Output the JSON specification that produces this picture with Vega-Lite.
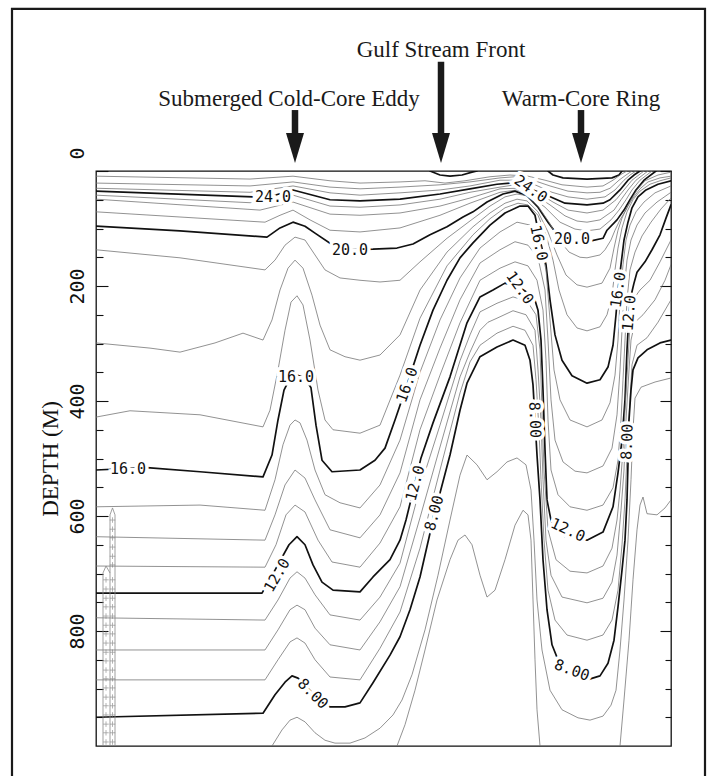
{
"$schema": "https://vega.github.io/schema/vega-lite/v6.json",
"width": 575, "height": 575,
"autosize": {"type": "none"},
"padding": {"left": 96, "top": 171, "right": 41, "bottom": 30},
"background": "white",
"config": {"view": {"stroke": "#111", "strokeWidth": 1.3}, "axis": {"grid": false, "domain": false}},
"resolve": {"axis": {"y": "independent"}},
"datasets": {
"frame": [{"x1": -84, "x2": 609, "d1": -282, "d2": 1080}],
"notes": [{"label": "Gulf Stream Front", "dist": 345, "depth": -198}, {"label": "Submerged Cold-Core Eddy", "dist": 193, "depth": -113}, {"label": "Warm-Core Ring", "dist": 485, "depth": -113}],
"arrows": [{"dist": 199, "top": -106, "base": -52, "tip": -14}, {"dist": 345, "top": -190, "base": -52, "tip": -14}, {"dist": 485, "top": -106, "base": -52, "tip": -14}],
"probe": [{"part":"a","dist":14,"depth":1000},{"part":"a","dist":14,"depth":598},{"part":"a","dist":16.5,"depth":586},{"part":"a","dist":19,"depth":598},{"part":"a","dist":19,"depth":1000},{"part":"b","dist":7,"depth":1000},{"part":"b","dist":7,"depth":699},{"part":"b","dist":10,"depth":687},{"part":"b","dist":14,"depth":699}],
"probeMarks": [{"dist":10,"depth":711},{"dist":10,"depth":727},{"dist":10,"depth":743},{"dist":10,"depth":758},{"dist":10,"depth":774},{"dist":10,"depth":790},{"dist":10,"depth":805},{"dist":10,"depth":821},{"dist":10,"depth":837},{"dist":10,"depth":852},{"dist":10,"depth":868},{"dist":10,"depth":883},{"dist":10,"depth":899},{"dist":10,"depth":915},{"dist":10,"depth":930},{"dist":10,"depth":946},{"dist":10,"depth":962},{"dist":10,"depth":977},{"dist":10,"depth":993},
{"dist":16.5,"depth":607},{"dist":16.5,"depth":623},{"dist":16.5,"depth":638},{"dist":16.5,"depth":654},{"dist":16.5,"depth":670},{"dist":16.5,"depth":685},{"dist":16.5,"depth":711},{"dist":16.5,"depth":727},{"dist":16.5,"depth":743},{"dist":16.5,"depth":758},{"dist":16.5,"depth":774},{"dist":16.5,"depth":790},{"dist":16.5,"depth":805},{"dist":16.5,"depth":821},{"dist":16.5,"depth":837},{"dist":16.5,"depth":852},{"dist":16.5,"depth":868},{"dist":16.5,"depth":883},{"dist":16.5,"depth":899},{"dist":16.5,"depth":915},{"dist":16.5,"depth":930},{"dist":16.5,"depth":946},{"dist":16.5,"depth":962},{"dist":16.5,"depth":977},{"dist":16.5,"depth":993}],
"labels": [
{"text":"24.0","dist":177,"depth":45,"angle":0},
{"text":"20.0","dist":254,"depth":137,"angle":0},
{"text":"16.0","dist":32,"depth":518,"angle":0},
{"text":"16.0","dist":200,"depth":358,"angle":0},
{"text":"12.0","dist":181,"depth":703,"angle":-60},
{"text":"8.00","dist":217,"depth":909,"angle":45},
{"text":"16.0","dist":311,"depth":372,"angle":-70},
{"text":"12.0","dist":319,"depth":543,"angle":-75},
{"text":"8.00","dist":338,"depth":595,"angle":-75},
{"text":"24.0","dist":435,"depth":31,"angle":35},
{"text":"12.0","dist":424,"depth":203,"angle":55},
{"text":"16.0","dist":443,"depth":125,"angle":78},
{"text":"8.00","dist":439,"depth":433,"angle":88},
{"text":"20.0","dist":476,"depth":118,"angle":0},
{"text":"16.0","dist":522,"depth":207,"angle":-82},
{"text":"12.0","dist":533,"depth":247,"angle":-85},
{"text":"8.00","dist":531,"depth":471,"angle":-88},
{"text":"12.0","dist":472,"depth":624,"angle":25},
{"text":"8.00","dist":476,"depth":868,"angle":20}],
"iso": [
{"temp":28,"part":"r","dist":452,"depth":0},{"temp":28,"part":"r","dist":457,"depth":7},{"temp":28,"part":"r","dist":467,"depth":12},{"temp":28,"part":"r","dist":491,"depth":14},{"temp":28,"part":"r","dist":516,"depth":12},{"temp":28,"part":"r","dist":523,"depth":7},{"temp":28,"part":"r","dist":526,"depth":0},
{"temp":28,"part":"b","dist":334,"depth":0},{"temp":28,"part":"b","dist":344,"depth":7},{"temp":28,"part":"b","dist":354,"depth":9},{"temp":28,"part":"b","dist":366,"depth":7},{"temp":28,"part":"b","dist":376,"depth":2},{"temp":28,"part":"b","dist":381,"depth":0},
{"temp":27,"dist":0,"depth":9},{"temp":27,"dist":154,"depth":14},{"temp":27,"dist":197,"depth":9},{"temp":27,"dist":234,"depth":17},{"temp":27,"dist":264,"depth":21},{"temp":27,"dist":304,"depth":19},{"temp":27,"dist":329,"depth":17},{"temp":27,"dist":349,"depth":21},{"temp":27,"dist":369,"depth":17},{"temp":27,"dist":394,"depth":10},{"temp":27,"dist":414,"depth":7},{"temp":27,"dist":432,"depth":9},{"temp":27,"dist":449,"depth":16},{"temp":27,"dist":466,"depth":24},{"temp":27,"dist":491,"depth":28},{"temp":27,"dist":507,"depth":26},{"temp":27,"dist":517,"depth":16},{"temp":27,"dist":524,"depth":7},{"temp":27,"dist":531,"depth":0},
{"temp":26,"dist":0,"depth":21},{"temp":26,"dist":154,"depth":26},{"temp":26,"dist":197,"depth":19},{"temp":26,"dist":234,"depth":28},{"temp":26,"dist":264,"depth":31},{"temp":26,"dist":304,"depth":28},{"temp":26,"dist":344,"depth":24},{"temp":26,"dist":374,"depth":19},{"temp":26,"dist":404,"depth":12},{"temp":26,"dist":419,"depth":10},{"temp":26,"dist":437,"depth":16},{"temp":26,"dist":454,"depth":26},{"temp":26,"dist":472,"depth":35},{"temp":26,"dist":491,"depth":38},{"temp":26,"dist":504,"depth":37},{"temp":26,"dist":514,"depth":30},{"temp":26,"dist":523,"depth":16},{"temp":26,"dist":530,"depth":7},{"temp":26,"dist":536,"depth":0},
{"temp":25,"dist":0,"depth":30},{"temp":25,"dist":154,"depth":37},{"temp":25,"dist":197,"depth":26},{"temp":25,"dist":234,"depth":38},{"temp":25,"dist":264,"depth":42},{"temp":25,"dist":304,"depth":38},{"temp":25,"dist":344,"depth":33},{"temp":25,"dist":374,"depth":26},{"temp":25,"dist":404,"depth":16},{"temp":25,"dist":419,"depth":16},{"temp":25,"dist":439,"depth":24},{"temp":25,"dist":456,"depth":37},{"temp":25,"dist":472,"depth":45},{"temp":25,"dist":491,"depth":49},{"temp":25,"dist":509,"depth":45},{"temp":25,"dist":519,"depth":33},{"temp":25,"dist":528,"depth":16},{"temp":25,"dist":534,"depth":7},{"temp":25,"dist":540,"depth":0},
{"temp":24,"dist":0,"depth":35},{"temp":24,"dist":157,"depth":45},{"temp":24,"dist":177,"depth":43},{"temp":24,"dist":197,"depth":33},{"temp":24,"dist":234,"depth":50},{"temp":24,"dist":264,"depth":52},{"temp":24,"dist":304,"depth":49},{"temp":24,"dist":344,"depth":40},{"temp":24,"dist":374,"depth":31},{"temp":24,"dist":401,"depth":23},{"temp":24,"dist":414,"depth":21},{"temp":24,"dist":434,"depth":31},{"temp":24,"dist":452,"depth":43},{"temp":24,"dist":469,"depth":56},{"temp":24,"dist":491,"depth":59},{"temp":24,"dist":507,"depth":56},{"temp":24,"dist":514,"depth":50},{"temp":24,"dist":524,"depth":33},{"temp":24,"dist":532,"depth":16},{"temp":24,"dist":538,"depth":7},{"temp":24,"dist":544,"depth":0},
{"temp":23,"dist":0,"depth":42},{"temp":23,"dist":164,"depth":56},{"temp":23,"dist":197,"depth":42},{"temp":23,"dist":234,"depth":61},{"temp":23,"dist":264,"depth":63},{"temp":23,"dist":304,"depth":59},{"temp":23,"dist":344,"depth":49},{"temp":23,"dist":374,"depth":37},{"temp":23,"dist":404,"depth":28},{"temp":23,"dist":419,"depth":24},{"temp":23,"dist":441,"depth":37},{"temp":23,"dist":457,"depth":54},{"temp":23,"dist":472,"depth":68},{"temp":23,"dist":491,"depth":73},{"temp":23,"dist":507,"depth":68},{"temp":23,"dist":520,"depth":50},{"temp":23,"dist":528,"depth":33},{"temp":23,"dist":536,"depth":16},{"temp":23,"dist":548,"depth":0},
{"temp":22,"dist":0,"depth":49},{"temp":22,"dist":164,"depth":68},{"temp":22,"dist":197,"depth":54},{"temp":22,"dist":234,"depth":75},{"temp":22,"dist":264,"depth":77},{"temp":22,"dist":304,"depth":73},{"temp":22,"dist":344,"depth":61},{"temp":22,"dist":374,"depth":47},{"temp":22,"dist":404,"depth":31},{"temp":22,"dist":421,"depth":30},{"temp":22,"dist":439,"depth":42},{"temp":22,"dist":454,"depth":59},{"temp":22,"dist":469,"depth":78},{"temp":22,"dist":481,"depth":87},{"temp":22,"dist":491,"depth":89},{"temp":22,"dist":504,"depth":85},{"temp":22,"dist":518,"depth":68},{"temp":22,"dist":525,"depth":50},{"temp":22,"dist":532,"depth":33},{"temp":22,"dist":540,"depth":16},{"temp":22,"dist":552,"depth":0},
{"temp":21,"dist":0,"depth":71},{"temp":21,"dist":84,"depth":80},{"temp":21,"dist":169,"depth":89},{"temp":21,"dist":184,"depth":77},{"temp":21,"dist":197,"depth":68},{"temp":21,"dist":214,"depth":85},{"temp":21,"dist":234,"depth":103},{"temp":21,"dist":264,"depth":106},{"temp":21,"dist":304,"depth":99},{"temp":21,"dist":344,"depth":77},{"temp":21,"dist":374,"depth":56},{"temp":21,"dist":404,"depth":37},{"temp":21,"dist":421,"depth":33},{"temp":21,"dist":434,"depth":43},{"temp":21,"dist":449,"depth":63},{"temp":21,"dist":464,"depth":89},{"temp":21,"dist":479,"depth":101},{"temp":21,"dist":491,"depth":104},{"temp":21,"dist":504,"depth":101},{"temp":21,"dist":515,"depth":85},{"temp":21,"dist":523,"depth":68},{"temp":21,"dist":530,"depth":50},{"temp":21,"dist":536,"depth":33},{"temp":21,"dist":544,"depth":16},{"temp":21,"dist":556,"depth":0},
{"temp":20,"dist":0,"depth":96},{"temp":20,"dist":84,"depth":104},{"temp":20,"dist":171,"depth":115},{"temp":20,"dist":184,"depth":99},{"temp":20,"dist":197,"depth":89},{"temp":20,"dist":209,"depth":96},{"temp":20,"dist":219,"depth":108},{"temp":20,"dist":237,"depth":129},{"temp":20,"dist":254,"depth":137},{"temp":20,"dist":277,"depth":136},{"temp":20,"dist":301,"depth":134},{"temp":20,"dist":317,"depth":127},{"temp":20,"dist":334,"depth":111},{"temp":20,"dist":351,"depth":97},{"temp":20,"dist":367,"depth":80},{"temp":20,"dist":377,"depth":71},{"temp":20,"dist":391,"depth":54},{"temp":20,"dist":407,"depth":40},{"temp":20,"dist":419,"depth":35},{"temp":20,"dist":431,"depth":43},{"temp":20,"dist":442,"depth":63},{"temp":20,"dist":452,"depth":89},{"temp":20,"dist":460,"depth":108},{"temp":20,"dist":476,"depth":118},{"temp":20,"dist":494,"depth":122},{"temp":20,"dist":507,"depth":117},{"temp":20,"dist":511,"depth":103},{"temp":20,"dist":521,"depth":85},{"temp":20,"dist":528,"depth":68},{"temp":20,"dist":534,"depth":50},{"temp":20,"dist":540,"depth":33},{"temp":20,"dist":548,"depth":16},{"temp":20,"dist":560,"depth":0},
{"temp":19,"dist":0,"depth":137},{"temp":19,"dist":84,"depth":151},{"temp":19,"dist":169,"depth":172},{"temp":19,"dist":179,"depth":155},{"temp":19,"dist":189,"depth":129},{"temp":19,"dist":199,"depth":115},{"temp":19,"dist":209,"depth":120},{"temp":19,"dist":219,"depth":146},{"temp":19,"dist":229,"depth":172},{"temp":19,"dist":244,"depth":186},{"temp":19,"dist":264,"depth":190},{"temp":19,"dist":284,"depth":193},{"temp":19,"dist":304,"depth":190},{"temp":19,"dist":324,"depth":158},{"temp":19,"dist":351,"depth":117},{"temp":19,"dist":377,"depth":83},{"temp":19,"dist":394,"depth":61},{"temp":19,"dist":409,"depth":45},{"temp":19,"dist":421,"depth":40},{"temp":19,"dist":431,"depth":43},{"temp":19,"dist":442,"depth":61},{"temp":19,"dist":453,"depth":89},{"temp":19,"dist":463,"depth":120},{"temp":19,"dist":473,"depth":141},{"temp":19,"dist":484,"depth":150},{"temp":19,"dist":491,"depth":151},{"temp":19,"dist":504,"depth":146},{"temp":19,"dist":509,"depth":137},{"temp":19,"dist":515,"depth":120},{"temp":19,"dist":519,"depth":103},{"temp":19,"dist":524,"depth":85},{"temp":19,"dist":530,"depth":68},{"temp":19,"dist":535,"depth":50},{"temp":19,"dist":541,"depth":33},{"temp":19,"dist":549,"depth":17},{"temp":19,"dist":562,"depth":7},{"temp":19,"dist":575,"depth":2},
{"temp":18,"dist":0,"depth":299},{"temp":18,"dist":54,"depth":308},{"temp":18,"dist":84,"depth":315},{"temp":18,"dist":119,"depth":299},{"temp":18,"dist":147,"depth":282},{"temp":18,"dist":167,"depth":294},{"temp":18,"dist":176,"depth":259},{"temp":18,"dist":184,"depth":207},{"temp":18,"dist":192,"depth":169},{"temp":18,"dist":199,"depth":155},{"temp":18,"dist":207,"depth":169},{"temp":18,"dist":216,"depth":216},{"temp":18,"dist":224,"depth":268},{"temp":18,"dist":234,"depth":311},{"temp":18,"dist":249,"depth":323},{"temp":18,"dist":264,"depth":329},{"temp":18,"dist":284,"depth":320},{"temp":18,"dist":304,"depth":285},{"temp":18,"dist":324,"depth":207},{"temp":18,"dist":351,"depth":141},{"temp":18,"dist":377,"depth":97},{"temp":18,"dist":394,"depth":73},{"temp":18,"dist":409,"depth":56},{"temp":18,"dist":421,"depth":49},{"temp":18,"dist":431,"depth":52},{"temp":18,"dist":442,"depth":71},{"temp":18,"dist":452,"depth":106},{"temp":18,"dist":461,"depth":146},{"temp":18,"dist":470,"depth":181},{"temp":18,"dist":481,"depth":198},{"temp":18,"dist":491,"depth":202},{"temp":18,"dist":506,"depth":195},{"temp":18,"dist":514,"depth":169},{"temp":18,"dist":518,"depth":134},{"temp":18,"dist":522,"depth":103},{"temp":18,"dist":526,"depth":82},{"temp":18,"dist":531,"depth":63},{"temp":18,"dist":537,"depth":47},{"temp":18,"dist":544,"depth":31},{"temp":18,"dist":552,"depth":19},{"temp":18,"dist":564,"depth":12},{"temp":18,"dist":575,"depth":9},
{"temp":17,"dist":0,"depth":428},{"temp":17,"dist":34,"depth":417},{"temp":17,"dist":104,"depth":424},{"temp":17,"dist":167,"depth":445},{"temp":17,"dist":174,"depth":416},{"temp":17,"dist":182,"depth":346},{"temp":17,"dist":189,"depth":277},{"temp":17,"dist":195,"depth":228},{"temp":17,"dist":201,"depth":217},{"temp":17,"dist":207,"depth":233},{"temp":17,"dist":214,"depth":294},{"temp":17,"dist":222,"depth":381},{"temp":17,"dist":229,"depth":433},{"temp":17,"dist":237,"depth":450},{"temp":17,"dist":264,"depth":456},{"temp":17,"dist":284,"depth":442},{"temp":17,"dist":304,"depth":355},{"temp":17,"dist":324,"depth":256},{"temp":17,"dist":351,"depth":165},{"temp":17,"dist":377,"depth":111},{"temp":17,"dist":394,"depth":83},{"temp":17,"dist":409,"depth":64},{"temp":17,"dist":422,"depth":56},{"temp":17,"dist":432,"depth":59},{"temp":17,"dist":442,"depth":77},{"temp":17,"dist":450,"depth":111},{"temp":17,"dist":457,"depth":155},{"temp":17,"dist":463,"depth":207},{"temp":17,"dist":471,"depth":250},{"temp":17,"dist":481,"depth":273},{"temp":17,"dist":491,"depth":278},{"temp":17,"dist":504,"depth":271},{"temp":17,"dist":511,"depth":250},{"temp":17,"dist":516,"depth":216},{"temp":17,"dist":519,"depth":172},{"temp":17,"dist":522,"depth":134},{"temp":17,"dist":526,"depth":99},{"temp":17,"dist":531,"depth":71},{"temp":17,"dist":537,"depth":50},{"temp":17,"dist":544,"depth":35},{"temp":17,"dist":554,"depth":23},{"temp":17,"dist":564,"depth":17},{"temp":17,"dist":575,"depth":12},
{"temp":16,"dist":0,"depth":520},{"temp":16,"dist":51,"depth":516},{"temp":16,"dist":104,"depth":523},{"temp":16,"dist":167,"depth":532},{"temp":16,"dist":176,"depth":494},{"temp":16,"dist":182,"depth":433},{"temp":16,"dist":188,"depth":381},{"temp":16,"dist":194,"depth":360},{"temp":16,"dist":201,"depth":355},{"temp":16,"dist":209,"depth":360},{"temp":16,"dist":215,"depth":377},{"temp":16,"dist":220,"depth":442},{"temp":16,"dist":226,"depth":503},{"temp":16,"dist":236,"depth":523},{"temp":16,"dist":264,"depth":520},{"temp":16,"dist":279,"depth":503},{"temp":16,"dist":289,"depth":482},{"temp":16,"dist":299,"depth":433},{"temp":16,"dist":311,"depth":372},{"temp":16,"dist":324,"depth":303},{"temp":16,"dist":337,"depth":242},{"temp":16,"dist":351,"depth":190},{"temp":16,"dist":364,"depth":151},{"temp":16,"dist":377,"depth":125},{"temp":16,"dist":394,"depth":94},{"temp":16,"dist":409,"depth":73},{"temp":16,"dist":424,"depth":61},{"temp":16,"dist":432,"depth":61},{"temp":16,"dist":439,"depth":77},{"temp":16,"dist":444,"depth":120},{"temp":16,"dist":450,"depth":163},{"temp":16,"dist":454,"depth":224},{"temp":16,"dist":459,"depth":285},{"temp":16,"dist":466,"depth":329},{"temp":16,"dist":476,"depth":356},{"temp":16,"dist":491,"depth":369},{"temp":16,"dist":504,"depth":363},{"temp":16,"dist":512,"depth":341},{"temp":16,"dist":517,"depth":303},{"temp":16,"dist":520,"depth":250},{"temp":16,"dist":522,"depth":207},{"temp":16,"dist":525,"depth":163},{"temp":16,"dist":528,"depth":120},{"temp":16,"dist":532,"depth":89},{"temp":16,"dist":536,"depth":64},{"temp":16,"dist":542,"depth":45},{"temp":16,"dist":550,"depth":33},{"temp":16,"dist":562,"depth":23},{"temp":16,"dist":575,"depth":17},
{"temp":15,"dist":0,"depth":584},{"temp":15,"dist":104,"depth":581},{"temp":15,"dist":169,"depth":590},{"temp":15,"dist":179,"depth":537},{"temp":15,"dist":187,"depth":476},{"temp":15,"dist":194,"depth":442},{"temp":15,"dist":199,"depth":433},{"temp":15,"dist":204,"depth":438},{"temp":15,"dist":211,"depth":468},{"temp":15,"dist":219,"depth":520},{"temp":15,"dist":229,"depth":563},{"temp":15,"dist":244,"depth":577},{"temp":15,"dist":264,"depth":586},{"temp":15,"dist":284,"depth":546},{"temp":15,"dist":304,"depth":468},{"temp":15,"dist":324,"depth":350},{"temp":15,"dist":344,"depth":259},{"temp":15,"dist":364,"depth":186},{"temp":15,"dist":384,"depth":134},{"temp":15,"dist":404,"depth":106},{"temp":15,"dist":421,"depth":89},{"temp":15,"dist":434,"depth":94},{"temp":15,"dist":443,"depth":117},{"temp":15,"dist":450,"depth":172},{"temp":15,"dist":454,"depth":259},{"temp":15,"dist":458,"depth":346},{"temp":15,"dist":464,"depth":398},{"temp":15,"dist":474,"depth":433},{"temp":15,"dist":491,"depth":445},{"temp":15,"dist":506,"depth":433},{"temp":15,"dist":514,"depth":403},{"temp":15,"dist":519,"depth":355},{"temp":15,"dist":522,"depth":294},{"temp":15,"dist":524,"depth":224},{"temp":15,"dist":527,"depth":163},{"temp":15,"dist":530,"depth":120},{"temp":15,"dist":534,"depth":94},{"temp":15,"dist":540,"depth":71},{"temp":15,"dist":548,"depth":54},{"temp":15,"dist":559,"depth":38},{"temp":15,"dist":575,"depth":26},
{"temp":14,"dist":0,"depth":636},{"temp":14,"dist":169,"depth":642},{"temp":14,"dist":179,"depth":598},{"temp":14,"dist":189,"depth":546},{"temp":14,"dist":199,"depth":520},{"temp":14,"dist":209,"depth":534},{"temp":14,"dist":219,"depth":572},{"temp":14,"dist":234,"depth":624},{"temp":14,"dist":264,"depth":638},{"temp":14,"dist":284,"depth":598},{"temp":14,"dist":304,"depth":525},{"temp":14,"dist":324,"depth":398},{"temp":14,"dist":344,"depth":308},{"temp":14,"dist":364,"depth":224},{"temp":14,"dist":384,"depth":160},{"temp":14,"dist":404,"depth":137},{"temp":14,"dist":419,"depth":123},{"temp":14,"dist":432,"depth":129},{"temp":14,"dist":442,"depth":151},{"temp":14,"dist":449,"depth":207},{"temp":14,"dist":452,"depth":294},{"temp":14,"dist":455,"depth":398},{"temp":14,"dist":459,"depth":468},{"temp":14,"dist":467,"depth":506},{"temp":14,"dist":479,"depth":522},{"temp":14,"dist":491,"depth":525},{"temp":14,"dist":507,"depth":513},{"temp":14,"dist":516,"depth":482},{"temp":14,"dist":521,"depth":424},{"temp":14,"dist":524,"depth":346},{"temp":14,"dist":526,"depth":277},{"temp":14,"dist":528,"depth":207},{"temp":14,"dist":531,"depth":155},{"temp":14,"dist":535,"depth":120},{"temp":14,"dist":541,"depth":94},{"temp":14,"dist":549,"depth":73},{"temp":14,"dist":561,"depth":54},{"temp":14,"dist":575,"depth":37},
{"temp":13,"dist":0,"depth":687},{"temp":13,"dist":169,"depth":689},{"temp":13,"dist":180,"depth":650},{"temp":13,"dist":190,"depth":598},{"temp":13,"dist":199,"depth":581},{"temp":13,"dist":209,"depth":593},{"temp":13,"dist":222,"depth":642},{"temp":13,"dist":236,"depth":680},{"temp":13,"dist":264,"depth":689},{"temp":13,"dist":284,"depth":647},{"temp":13,"dist":304,"depth":584},{"temp":13,"dist":324,"depth":450},{"temp":13,"dist":344,"depth":355},{"temp":13,"dist":364,"depth":264},{"temp":13,"dist":384,"depth":190},{"temp":13,"dist":404,"depth":169},{"temp":13,"dist":419,"depth":158},{"temp":13,"dist":432,"depth":165},{"temp":13,"dist":441,"depth":190},{"temp":13,"dist":447,"depth":242},{"temp":13,"dist":450,"depth":329},{"temp":13,"dist":452,"depth":433},{"temp":13,"dist":455,"depth":520},{"temp":13,"dist":462,"depth":563},{"temp":13,"dist":474,"depth":584},{"temp":13,"dist":491,"depth":590},{"temp":13,"dist":507,"depth":581},{"temp":13,"dist":517,"depth":551},{"temp":13,"dist":522,"depth":503},{"temp":13,"dist":525,"depth":433},{"temp":13,"dist":527,"depth":363},{"temp":13,"dist":529,"depth":294},{"temp":13,"dist":531,"depth":224},{"temp":13,"dist":534,"depth":172},{"temp":13,"dist":539,"depth":141},{"temp":13,"dist":546,"depth":113},{"temp":13,"dist":555,"depth":89},{"temp":13,"dist":565,"depth":66},{"temp":13,"dist":575,"depth":47},
{"temp":12,"dist":0,"depth":734},{"temp":12,"dist":166,"depth":734},{"temp":12,"dist":179,"depth":694},{"temp":12,"dist":193,"depth":650},{"temp":12,"dist":201,"depth":636},{"temp":12,"dist":209,"depth":650},{"temp":12,"dist":217,"depth":685},{"temp":12,"dist":226,"depth":715},{"temp":12,"dist":237,"depth":729},{"temp":12,"dist":264,"depth":732},{"temp":12,"dist":277,"depth":706},{"temp":12,"dist":294,"depth":676},{"temp":12,"dist":304,"depth":642},{"temp":12,"dist":310,"depth":607},{"temp":12,"dist":319,"depth":543},{"temp":12,"dist":325,"depth":499},{"temp":12,"dist":337,"depth":438},{"temp":12,"dist":354,"depth":358},{"temp":12,"dist":371,"depth":264},{"temp":12,"dist":384,"depth":219},{"temp":12,"dist":397,"depth":207},{"temp":12,"dist":409,"depth":195},{"temp":12,"dist":424,"depth":203},{"temp":12,"dist":438,"depth":219},{"temp":12,"dist":442,"depth":242},{"temp":12,"dist":445,"depth":294},{"temp":12,"dist":447,"depth":381},{"temp":12,"dist":449,"depth":485},{"temp":12,"dist":451,"depth":572},{"temp":12,"dist":456,"depth":616},{"temp":12,"dist":469,"depth":636},{"temp":12,"dist":491,"depth":642},{"temp":12,"dist":507,"depth":628},{"temp":12,"dist":517,"depth":584},{"temp":12,"dist":522,"depth":525},{"temp":12,"dist":526,"depth":468},{"temp":12,"dist":529,"depth":398},{"temp":12,"dist":531,"depth":311},{"temp":12,"dist":533,"depth":247},{"temp":12,"dist":535,"depth":217},{"temp":12,"dist":538,"depth":195},{"temp":12,"dist":541,"depth":176},{"temp":12,"dist":549,"depth":158},{"temp":12,"dist":556,"depth":137},{"temp":12,"dist":564,"depth":111},{"temp":12,"dist":570,"depth":82},{"temp":12,"dist":575,"depth":59},
{"temp":11,"dist":0,"depth":777},{"temp":11,"dist":169,"depth":781},{"temp":11,"dist":182,"depth":746},{"temp":11,"dist":194,"depth":708},{"temp":11,"dist":201,"depth":697},{"temp":11,"dist":209,"depth":708},{"temp":11,"dist":219,"depth":737},{"temp":11,"dist":234,"depth":772},{"temp":11,"dist":264,"depth":781},{"temp":11,"dist":284,"depth":741},{"temp":11,"dist":304,"depth":682},{"temp":11,"dist":324,"depth":551},{"temp":11,"dist":344,"depth":442},{"temp":11,"dist":364,"depth":330},{"temp":11,"dist":374,"depth":285},{"temp":11,"dist":384,"depth":245},{"temp":11,"dist":401,"depth":230},{"temp":11,"dist":417,"depth":219},{"temp":11,"dist":431,"depth":226},{"temp":11,"dist":440,"depth":250},{"temp":11,"dist":444,"depth":311},{"temp":11,"dist":446,"depth":416},{"temp":11,"dist":448,"depth":520},{"temp":11,"dist":452,"depth":624},{"temp":11,"dist":460,"depth":676},{"temp":11,"dist":474,"depth":696},{"temp":11,"dist":491,"depth":699},{"temp":11,"dist":507,"depth":687},{"temp":11,"dist":516,"depth":656},{"temp":11,"dist":521,"depth":607},{"temp":11,"dist":524,"depth":555},{"temp":11,"dist":527,"depth":485},{"temp":11,"dist":529,"depth":416},{"temp":11,"dist":532,"depth":329},{"temp":11,"dist":534,"depth":268},{"temp":11,"dist":537,"depth":224},{"temp":11,"dist":544,"depth":207},{"temp":11,"dist":554,"depth":190},{"temp":11,"dist":564,"depth":158},{"temp":11,"dist":575,"depth":120},
{"temp":10,"dist":0,"depth":833},{"temp":10,"dist":169,"depth":833},{"temp":10,"dist":182,"depth":798},{"temp":10,"dist":194,"depth":763},{"temp":10,"dist":201,"depth":755},{"temp":10,"dist":209,"depth":763},{"temp":10,"dist":219,"depth":795},{"temp":10,"dist":234,"depth":824},{"temp":10,"dist":264,"depth":833},{"temp":10,"dist":284,"depth":784},{"temp":10,"dist":304,"depth":723},{"temp":10,"dist":324,"depth":603},{"temp":10,"dist":344,"depth":480},{"temp":10,"dist":364,"depth":358},{"temp":10,"dist":374,"depth":315},{"temp":10,"dist":384,"depth":277},{"temp":10,"dist":392,"depth":263},{"temp":10,"dist":401,"depth":256},{"temp":10,"dist":417,"depth":243},{"temp":10,"dist":430,"depth":250},{"temp":10,"dist":439,"depth":277},{"temp":10,"dist":442,"depth":346},{"temp":10,"dist":445,"depth":433},{"temp":10,"dist":447,"depth":537},{"temp":10,"dist":450,"depth":642},{"temp":10,"dist":455,"depth":703},{"temp":10,"dist":466,"depth":741},{"temp":10,"dist":491,"depth":751},{"temp":10,"dist":507,"depth":743},{"temp":10,"dist":516,"depth":715},{"temp":10,"dist":521,"depth":668},{"temp":10,"dist":525,"depth":590},{"temp":10,"dist":528,"depth":520},{"temp":10,"dist":530,"depth":433},{"temp":10,"dist":533,"depth":346},{"temp":10,"dist":535,"depth":294},{"temp":10,"dist":539,"depth":263},{"temp":10,"dist":547,"depth":250},{"temp":10,"dist":559,"depth":224},{"temp":10,"dist":569,"depth":190},{"temp":10,"dist":575,"depth":163},
{"temp":9,"dist":0,"depth":885},{"temp":9,"dist":169,"depth":885},{"temp":9,"dist":182,"depth":850},{"temp":9,"dist":194,"depth":819},{"temp":9,"dist":201,"depth":812},{"temp":9,"dist":209,"depth":821},{"temp":9,"dist":219,"depth":850},{"temp":9,"dist":234,"depth":880},{"temp":9,"dist":264,"depth":885},{"temp":9,"dist":284,"depth":830},{"temp":9,"dist":304,"depth":767},{"temp":9,"dist":324,"depth":656},{"temp":9,"dist":344,"depth":520},{"temp":9,"dist":364,"depth":386},{"temp":9,"dist":374,"depth":332},{"temp":9,"dist":384,"depth":303},{"temp":9,"dist":401,"depth":282},{"temp":9,"dist":417,"depth":270},{"temp":9,"dist":429,"depth":277},{"temp":9,"dist":437,"depth":303},{"temp":9,"dist":440,"depth":363},{"temp":9,"dist":443,"depth":450},{"temp":9,"dist":445,"depth":537},{"temp":9,"dist":448,"depth":642},{"temp":9,"dist":452,"depth":729},{"temp":9,"dist":459,"depth":781},{"temp":9,"dist":471,"depth":807},{"temp":9,"dist":491,"depth":816},{"temp":9,"dist":507,"depth":807},{"temp":9,"dist":516,"depth":781},{"temp":9,"dist":522,"depth":729},{"temp":9,"dist":526,"depth":650},{"temp":9,"dist":529,"depth":572},{"temp":9,"dist":531,"depth":494},{"temp":9,"dist":534,"depth":398},{"temp":9,"dist":536,"depth":337},{"temp":9,"dist":541,"depth":303},{"temp":9,"dist":551,"depth":290},{"temp":9,"dist":562,"depth":263},{"temp":9,"dist":575,"depth":224},
{"temp":8,"dist":0,"depth":950},{"temp":8,"dist":167,"depth":943},{"temp":8,"dist":179,"depth":911},{"temp":8,"dist":189,"depth":889},{"temp":8,"dist":196,"depth":878},{"temp":8,"dist":202,"depth":882},{"temp":8,"dist":217,"depth":909},{"temp":8,"dist":234,"depth":932},{"temp":8,"dist":249,"depth":932},{"temp":8,"dist":264,"depth":925},{"temp":8,"dist":277,"depth":890},{"temp":8,"dist":294,"depth":842},{"temp":8,"dist":304,"depth":810},{"temp":8,"dist":314,"depth":763},{"temp":8,"dist":324,"depth":706},{"temp":8,"dist":334,"depth":630},{"temp":8,"dist":338,"depth":595},{"temp":8,"dist":344,"depth":560},{"temp":8,"dist":354,"depth":494},{"temp":8,"dist":364,"depth":416},{"temp":8,"dist":371,"depth":369},{"temp":8,"dist":384,"depth":323},{"temp":8,"dist":401,"depth":306},{"temp":8,"dist":417,"depth":294},{"temp":8,"dist":429,"depth":303},{"temp":8,"dist":434,"depth":329},{"temp":8,"dist":437,"depth":372},{"temp":8,"dist":439,"depth":433},{"temp":8,"dist":441,"depth":494},{"temp":8,"dist":444,"depth":572},{"temp":8,"dist":447,"depth":676},{"temp":8,"dist":451,"depth":763},{"temp":8,"dist":456,"depth":824},{"temp":8,"dist":464,"depth":859},{"temp":8,"dist":476,"depth":878},{"temp":8,"dist":491,"depth":885},{"temp":8,"dist":504,"depth":878},{"temp":8,"dist":512,"depth":856},{"temp":8,"dist":518,"depth":816},{"temp":8,"dist":522,"depth":758},{"temp":8,"dist":526,"depth":694},{"temp":8,"dist":529,"depth":642},{"temp":8,"dist":531,"depth":572},{"temp":8,"dist":532,"depth":508},{"temp":8,"dist":531,"depth":471},{"temp":8,"dist":533,"depth":433},{"temp":8,"dist":535,"depth":381},{"temp":8,"dist":537,"depth":346},{"temp":8,"dist":542,"depth":325},{"temp":8,"dist":551,"depth":311},{"temp":8,"dist":564,"depth":299},{"temp":8,"dist":575,"depth":294},
{"temp":7,"dist":176,"depth":1000},{"temp":7,"dist":186,"depth":972},{"temp":7,"dist":194,"depth":955},{"temp":7,"dist":201,"depth":950},{"temp":7,"dist":209,"depth":958},{"temp":7,"dist":219,"depth":977},{"temp":7,"dist":229,"depth":990},{"temp":7,"dist":239,"depth":995},{"temp":7,"dist":254,"depth":995},{"temp":7,"dist":269,"depth":986},{"temp":7,"dist":284,"depth":969},{"temp":7,"dist":297,"depth":946},{"temp":7,"dist":306,"depth":920},{"temp":7,"dist":316,"depth":876},{"temp":7,"dist":329,"depth":798},{"temp":7,"dist":342,"depth":703},{"temp":7,"dist":354,"depth":607},{"temp":7,"dist":364,"depth":529},{"temp":7,"dist":371,"depth":494},{"temp":7,"dist":381,"depth":511},{"temp":7,"dist":391,"depth":537},{"temp":7,"dist":401,"depth":523},{"temp":7,"dist":411,"depth":506},{"temp":7,"dist":421,"depth":499},{"temp":7,"dist":430,"depth":511},{"temp":7,"dist":435,"depth":555},{"temp":7,"dist":438,"depth":642},{"temp":7,"dist":441,"depth":746},{"temp":7,"dist":446,"depth":833},{"temp":7,"dist":454,"depth":903},{"temp":7,"dist":466,"depth":937},{"temp":7,"dist":482,"depth":951},{"temp":7,"dist":494,"depth":955},{"temp":7,"dist":507,"depth":948},{"temp":7,"dist":515,"depth":929},{"temp":7,"dist":520,"depth":903},{"temp":7,"dist":524,"depth":833},{"temp":7,"dist":528,"depth":746},{"temp":7,"dist":532,"depth":642},{"temp":7,"dist":535,"depth":537},{"temp":7,"dist":537,"depth":450},{"temp":7,"dist":539,"depth":395},{"temp":7,"dist":545,"depth":376},{"temp":7,"dist":559,"depth":367},{"temp":7,"dist":575,"depth":360},
{"temp":6,"part":"l","dist":301,"depth":1000},{"temp":6,"part":"l","dist":309,"depth":963},{"temp":6,"part":"l","dist":319,"depth":903},{"temp":6,"part":"l","dist":329,"depth":833},{"temp":6,"part":"l","dist":341,"depth":746},{"temp":6,"part":"l","dist":354,"depth":676},{"temp":6,"part":"l","dist":362,"depth":642},{"temp":6,"part":"l","dist":369,"depth":633},{"temp":6,"part":"l","dist":376,"depth":650},{"temp":6,"part":"l","dist":384,"depth":703},{"temp":6,"part":"l","dist":391,"depth":741},{"temp":6,"part":"l","dist":399,"depth":729},{"temp":6,"part":"l","dist":409,"depth":676},{"temp":6,"part":"l","dist":419,"depth":616},{"temp":6,"part":"l","dist":427,"depth":590},{"temp":6,"part":"l","dist":432,"depth":598},{"temp":6,"part":"l","dist":435,"depth":642},{"temp":6,"part":"l","dist":437,"depth":746},{"temp":6,"part":"l","dist":439,"depth":850},{"temp":6,"part":"l","dist":441,"depth":937},{"temp":6,"part":"l","dist":444,"depth":1000},
{"temp":6,"part":"r","dist":524,"depth":1000},{"temp":6,"part":"r","dist":528,"depth":920},{"temp":6,"part":"r","dist":533,"depth":816},{"temp":6,"part":"r","dist":537,"depth":711},{"temp":6,"part":"r","dist":541,"depth":624},{"temp":6,"part":"r","dist":544,"depth":581},{"temp":6,"part":"r","dist":547,"depth":567},{"temp":6,"part":"r","dist":551,"depth":596},{"temp":6,"part":"r","dist":561,"depth":598},{"temp":6,"part":"r","dist":569,"depth":586},{"temp":6,"part":"r","dist":575,"depth":572}
]
},
"layer": [
{"data": {"name": "frame"},
 "mark": {"type": "rect", "filled": false, "stroke": "#1a1a1a", "strokeWidth": 2.2, "clip": false},
 "encoding": {
  "x": {"field": "x1", "type": "quantitative", "scale": {"domain": [0, 575], "nice": false, "zero": false}, "axis": null},
  "x2": {"field": "x2"},
  "y": {"field": "d1", "type": "quantitative", "scale": {"domain": [0, 1000], "reverse": true, "nice": false, "zero": false}, "axis": null},
  "y2": {"field": "d2"}}},
{"data": {"name": "iso"},
 "mark": {"type": "line", "strokeJoin": "round", "strokeCap": "round", "clip": true},
 "encoding": {
  "x": {"field": "dist", "type": "quantitative", "scale": {"domain": [0, 575], "nice": false, "zero": false}, "axis": null},
  "y": {"field": "depth", "type": "quantitative", "scale": {"domain": [0, 1000], "reverse": true, "nice": false, "zero": false},
   "axis": {"orient": "left", "title": "DEPTH (M)", "values": [0,50,100,150,200,250,300,350,400,450,500,550,600,650,700,750,800,850,900,950],
    "labelExpr": "datum.value % 200 === 0 ? datum.label : ''",
    "tickSize": {"condition": {"test": "datum.value % 200 === 0", "value": -12}, "value": -7},
    "labelOffset": {"condition": {"test": "datum.value === 0", "value": -18}, "value": 0},
    "tickColor": "#111", "tickWidth": 1.1,
    "labelAngle": -90, "labelAlign": "center", "labelBaseline": "alphabetic", "labelPadding": 25,
    "labelFont": "DejaVu Sans Mono", "labelFontSize": 20, "labelColor": "#111",
    "labelOverlap": false, "labelFlush": false, "labelBound": false,
    "titleFont": "Liberation Serif", "titleFontSize": 23, "titleFontWeight": "normal", "titleColor": "#111", "titlePadding": 0}},
  "detail": [{"field": "temp"}, {"field": "part"}],
  "order": {"value": null},
  "color": {"condition": {"test": "datum.temp % 4 === 0", "value": "#111"}, "value": "#767676"},
  "strokeWidth": {"condition": {"test": "datum.temp % 4 === 0", "value": 1.7}, "value": 0.8}}},
{"data": {"name": "probe"},
 "mark": {"type": "line", "color": "#888", "strokeWidth": 0.8},
 "encoding": {
  "x": {"field": "dist", "type": "quantitative", "scale": {"domain": [0, 575], "nice": false, "zero": false}, "axis": null},
  "y": {"field": "depth", "type": "quantitative", "scale": {"domain": [0, 1000], "reverse": true, "nice": false, "zero": false},
   "axis": {"orient": "right", "title": null, "labels": false, "values": [0,50,100,150,200,250,300,350,400,450,500,550,600,650,700,750,800,850,900,950],
    "tickSize": {"condition": {"test": "datum.value % 200 === 0", "value": -11}, "value": -6},
    "tickColor": "#111", "tickWidth": 1.1}},
  "detail": {"field": "part"},
  "order": {"value": null}}},
{"data": {"name": "probeMarks"},
 "mark": {"type": "point", "shape": "M-1,0L1,0M0,-1L0,1", "size": 30, "filled": false, "stroke": "#777", "strokeWidth": 0.8},
 "encoding": {
  "x": {"field": "dist", "type": "quantitative", "scale": {"domain": [0, 575], "nice": false, "zero": false}, "axis": null},
  "y": {"field": "depth", "type": "quantitative", "scale": {"domain": [0, 1000], "reverse": true, "nice": false, "zero": false}, "axis": null}}},
{"data": {"name": "labels"},
 "mark": {"type": "text", "font": "DejaVu Sans Mono", "fontSize": 15, "align": "center", "baseline": "middle", "fill": "white", "stroke": "white", "strokeWidth": 7},
 "encoding": {
  "x": {"field": "dist", "type": "quantitative", "scale": {"domain": [0, 575], "nice": false, "zero": false}, "axis": null},
  "y": {"field": "depth", "type": "quantitative", "scale": {"domain": [0, 1000], "reverse": true, "nice": false, "zero": false}, "axis": null},
  "text": {"field": "text"},
  "angle": {"field": "angle", "type": "quantitative", "scale": null}}},
{"data": {"name": "labels"},
 "mark": {"type": "text", "font": "DejaVu Sans Mono", "fontSize": 15, "align": "center", "baseline": "middle", "color": "#111"},
 "encoding": {
  "x": {"field": "dist", "type": "quantitative", "scale": {"domain": [0, 575], "nice": false, "zero": false}, "axis": null},
  "y": {"field": "depth", "type": "quantitative", "scale": {"domain": [0, 1000], "reverse": true, "nice": false, "zero": false}, "axis": null},
  "text": {"field": "text"},
  "angle": {"field": "angle", "type": "quantitative", "scale": null}}},
{"data": {"name": "notes"},
 "mark": {"type": "text", "font": "Liberation Serif", "fontSize": 23, "align": "center", "baseline": "alphabetic", "color": "#1a1a1a", "clip": false},
 "encoding": {
  "x": {"field": "dist", "type": "quantitative", "scale": {"domain": [0, 575], "nice": false, "zero": false}, "axis": null},
  "y": {"field": "depth", "type": "quantitative", "scale": {"domain": [0, 1000], "reverse": true, "nice": false, "zero": false}, "axis": null},
  "text": {"field": "label"}}},
{"data": {"name": "arrows"},
 "mark": {"type": "rule", "color": "#1a1a1a", "strokeWidth": 6.5, "clip": false},
 "encoding": {
  "x": {"field": "dist", "type": "quantitative", "scale": {"domain": [0, 575], "nice": false, "zero": false}, "axis": null},
  "y": {"field": "top", "type": "quantitative", "scale": {"domain": [0, 1000], "reverse": true, "nice": false, "zero": false}, "axis": null},
  "y2": {"field": "base"}}},
{"data": {"name": "arrows"},
 "mark": {"type": "point", "shape": "M-0.6,-2L0.6,-2L0,0Z", "size": 900, "filled": true, "color": "#1a1a1a", "opacity": 1, "clip": false},
 "encoding": {
  "x": {"field": "dist", "type": "quantitative", "scale": {"domain": [0, 575], "nice": false, "zero": false}, "axis": null},
  "y": {"field": "tip", "type": "quantitative", "scale": {"domain": [0, 1000], "reverse": true, "nice": false, "zero": false}, "axis": null}}}
]
}
